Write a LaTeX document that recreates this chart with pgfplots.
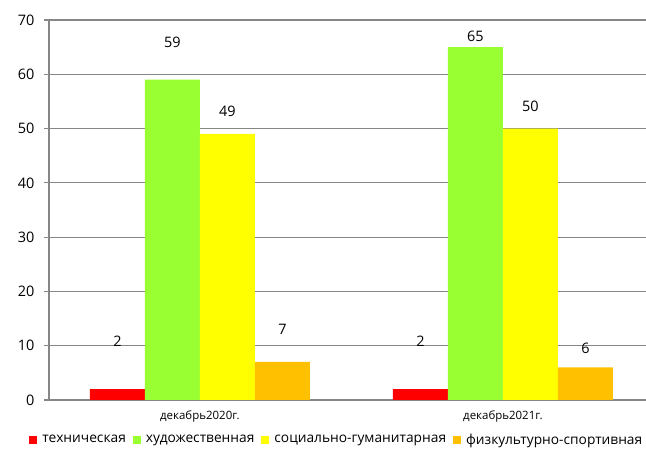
\documentclass[border=0pt]{standalone}
\usepackage{fontspec}
\setmainfont{Open Sans}
\usepackage{pgfplots}
\pgfplotsset{compat=1.18}
\definecolor{cred}{HTML}{FF0000}
\definecolor{cgreen}{HTML}{99FF33}
\definecolor{cyellow}{HTML}{FFFF00}
\definecolor{corange}{HTML}{FFC000}
\definecolor{cgrid}{HTML}{868686}
\begin{document}
\begin{tikzpicture}
\useasboundingbox (-49bp,-52bp) rectangle (597bp,400bp);
\begin{axis}[
  at={(0,0)}, anchor=south west,
  scale only axis, width=597bp, height=380bp,
  xmin=-0.498, xmax=1.472, ymin=0, ymax=70,
  ytick={0,10,...,70},
  xtick={0,1},
  xticklabels={декабрь2020г., декабрь2021г.},
  extra x ticks={0.5},
  extra x tick labels={},
  extra x tick style={major tick length=5bp, tick style={draw=cgrid, line width=1.2bp}, tick align=outside, grid=none},
  x tick style={draw=none},
  y tick style={draw=cgrid, line width=1.2bp},
  major tick length=5bp,
  tick align=outside,
  ymajorgrids,
  grid style={draw=cgrid, line width=1.2bp},
  axis x line*=bottom, axis y line*=left,
  axis line style={draw=cgrid, line width=1.2bp},
  /pgf/number format/assume math mode=true,
  yticklabel style={font=\fontsize{14.5}{17}\selectfont, xshift=-6bp},
  xticklabel style={font=\fontsize{11.5}{13}\selectfont, yshift=-2bp},
  legend columns=4,
  legend style={draw=none, at={(0.482,-0.105)}, anchor=center,
    font=\fontsize{13.8}{16}\selectfont, inner sep=0pt,
    /tikz/every odd column/.append style={column sep=3bp},
    /tikz/every even column/.append style={column sep=5bp}},
  legend image code/.code={\fill[#1] (0bp,-4bp) rectangle (8bp,4bp);},
]
\addplot[ybar, bar width=0.1815, bar shift=-0.27225, fill=cred, draw=none] coordinates {(0,2) (1,2)};
\addlegendentry{техническая}
\addplot[ybar, bar width=0.1815, bar shift=-0.09075, fill=cgreen, draw=none] coordinates {(0,59) (1,65)};
\addlegendentry{художественная}
\addplot[ybar, bar width=0.1815, bar shift=0.09075, fill=cyellow, draw=none] coordinates {(0,49) (1,50)};
\addlegendentry{социально-гуманитарная}
\addplot[ybar, bar width=0.1815, bar shift=0.27225, fill=corange, draw=none] coordinates {(0,7) (1,6)};
\addlegendentry{физкультурно-спортивная}
\addplot[draw=none, mark=none, forget plot, nodes near coords, point meta=explicit symbolic,
  every node near coord/.append style={anchor=center, font=\fontsize{14.5}{17}\selectfont}]
  coordinates {(-0.27225,10.9) [2] (-0.09075,65.9) [59] (0.09075,53.2) [49] (0.27225,13.1) [7]
               (0.72775,10.9) [2] (0.90925,67) [65] (1.09075,54.1) [50] (1.27225,9.6) [6]};
\end{axis}
\end{tikzpicture}
\end{document}
